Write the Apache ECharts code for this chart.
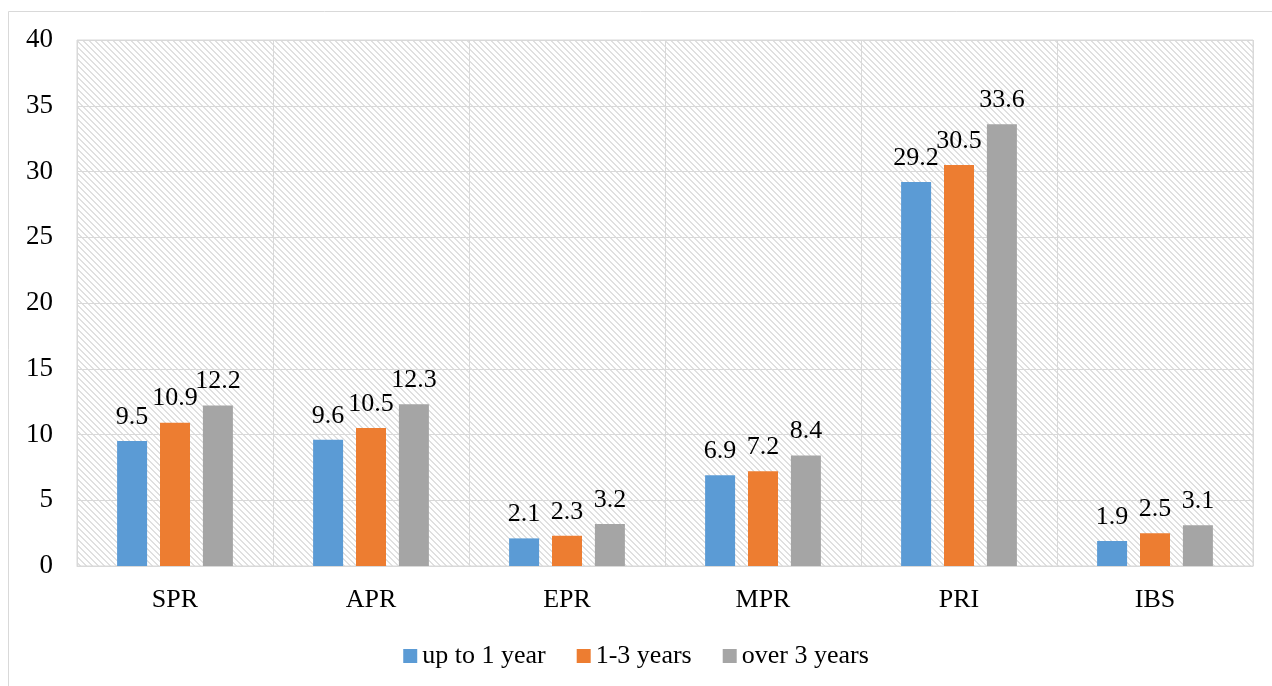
<!DOCTYPE html>
<html>
<head>
<meta http-equiv="Content-Type" content="text/html; charset=UTF-8">
<title>Groups</title>
<script src="https://cdn.jsdelivr.net/npm/echarts@6/dist/echarts.min.js"></script>
<style>
    html, body { margin: 0; padding: 0; background: #fff; }
</style>
</head>
<body>
<div id="chart" style="width: 1272px; height: 686px;"></div>
<script type="text/javascript">
    var categories = ['SPR', 'APR', 'EPR', 'MPR', 'PRI', 'IBS'];
    var seriesNames = ['up to 1 year', '1-3 years', 'over 3 years'];
    var upTo1 = [9.5, 9.6, 2.1, 6.9, 29.2, 1.9];
    var oneTo3 = [10.9, 10.5, 2.3, 7.2, 30.5, 2.5];
    var over3 = [12.2, 12.3, 3.2, 8.4, 33.6, 3.1];
    var colors = ['#5B9BD5', '#ED7D31', '#A5A5A5'];

    // hatched plot background
    var pat = document.createElement('canvas');
    pat.width = 6;
    pat.height = 6;
    var ctx = pat.getContext('2d');
    ctx.fillStyle = '#ffffff';
    ctx.fillRect(0, 0, 6, 6);
    ctx.fillStyle = '#e0e0e0';
    for (var i = 0; i < 6; i++) {
        ctx.fillRect(i, i, 1, 1);
        ctx.fillRect((i + 1) % 6, i, 1, 1);
    }

    var font = '"Liberation Serif", "Times New Roman", serif';
    var dataSets = [upTo1, oneTo3, over3];
    var series = [];
    for (var s = 0; s < 3; s++) {
        series.push({
            name: seriesNames[s],
            type: 'bar',
            data: dataSets[s],
            barWidth: 30,
            barGap: '43%',
            itemStyle: { color: colors[s] },
            label: {
                show: true,
                position: 'top',
                distance: 11,
                color: '#000',
                fontFamily: font,
                fontSize: 26
            }
        });
    }

    var myChart = echarts.init(document.getElementById('chart'));
    myChart.setOption({
        animation: false,
        backgroundColor: '#fff',
        graphic: [{
            type: 'rect',
            shape: { x: 8.5, y: 11.5, width: 1300, height: 700 },
            style: { fill: 'none', stroke: '#d9d9d9', lineWidth: 1 },
            silent: true
        }],
        grid: {
            left: 77,
            right: 19,
            top: 40,
            bottom: 120,
            show: true,
            backgroundColor: { image: pat, repeat: 'repeat' },
            borderColor: '#d9d9d9',
            borderWidth: 1
        },
        legend: {
            bottom: 12,
            left: 'center',
            itemWidth: 14,
            itemHeight: 14,
            itemGap: 31,
            icon: 'rect',
            textStyle: { fontFamily: font, fontSize: 26, color: '#000' },
            data: seriesNames
        },
        xAxis: {
            type: 'category',
            data: categories,
            axisLine: { show: true, lineStyle: { color: '#d9d9d9' } },
            axisTick: { show: false },
            splitLine: { show: true, lineStyle: { color: '#d9d9d9' } },
            axisLabel: { fontFamily: font, fontSize: 26, color: '#000', margin: 21 }
        },
        yAxis: {
            type: 'value',
            min: 0,
            max: 40,
            interval: 5,
            axisLine: { show: false },
            axisTick: { show: false },
            splitLine: { lineStyle: { color: '#d9d9d9' } },
            axisLabel: { fontFamily: font, fontSize: 27, color: '#000', margin: 24 }
        },
        series: series
    });
</script>
</body>
</html>
